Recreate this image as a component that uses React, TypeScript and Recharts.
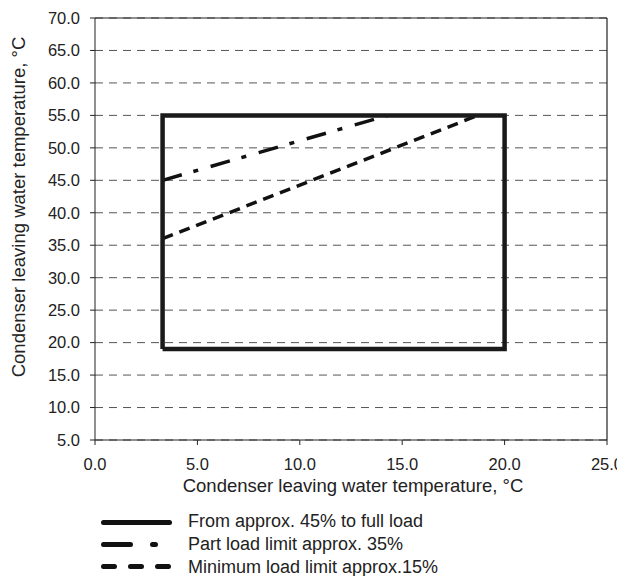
import React from 'react';
import { ComposedChart, Line, XAxis, YAxis, CartesianGrid, ReferenceLine, Customized } from 'recharts';

const xTicks = [0, 5, 10, 15, 20, 25];
const yTicks = [5, 10, 15, 20, 25, 30, 35, 40, 45, 50, 55, 60, 65, 70];

const fullLoadX = [3.3, 3.3, 20, 20, 3.3];
const fullLoadY = [19, 55, 55, 19, 19];
const partLoadX = [3.3, 14.3];
const partLoadY = [45, 55];
const minLoadX = [3.3, 18.7];
const minLoadY = [36, 55];

const legendLabels = [
  'From approx. 45% to full load',
  'Part load limit approx. 35%',
  'Minimum load limit approx.15%',
];

const toPts = (xs: number[], ys: number[]) => xs.map((x, i) => ({ x, y: ys[i] }));

const FONT = '"Liberation Sans", Arial, sans-serif';

const LegendBlock = () => {
  const rows = [514.5, 536.5, 558.5];
  const textRows = [513, 536, 558.5];
  const styles = [
    { x2: 161.5, dash: undefined as string | undefined },
    { x2: 161.5, dash: '27 22 3 200' },
    { x2: 160.5, dash: '11 16' },
  ];
  return (
    <g>
      {styles.map((s, i) => (
        <g key={i}>
          <line
            x1={95.5}
            x2={s.x2}
            y1={rows[i]}
            y2={rows[i]}
            stroke="#111"
            strokeWidth={5}
            strokeLinecap="round"
            strokeDasharray={s.dash}
          />
          <text x={180} y={textRows[i]} dominantBaseline="central" fontSize={18} fill="#222" fontFamily={FONT}>
            {legendLabels[i]}
          </text>
        </g>
      ))}
    </g>
  );
};

export default function App() {
  return (
    <ComposedChart
      width={617}
      height={568}
      margin={{ top: 10, right: 18, bottom: 106, left: 0 }}
      style={{ fontFamily: FONT }}
    >
      <CartesianGrid horizontal vertical={false} stroke="#555" strokeDasharray="8 6" />
      <XAxis
        type="number"
        dataKey="x"
        domain={[0, 25]}
        ticks={xTicks}
        tickFormatter={(v: number) => v.toFixed(1)}
        stroke="#222"
        tickSize={5}
        tickMargin={13}
        tick={{ fill: '#222', fontSize: 16.5 }}
        allowDataOverflow
        label={{
          content: () => (
            <text x={345} y={477} textAnchor="middle" dominantBaseline="central" fontSize={18.5} fill="#222" fontFamily={FONT}>
              Condenser leaving water temperature, °C
            </text>
          ),
        }}
      />
      <YAxis
        type="number"
        dataKey="y"
        domain={[5, 70]}
        ticks={yTicks}
        tickFormatter={(v: number) => v.toFixed(1)}
        width={87}
        stroke="#222"
        tickSize={5}
        tickMargin={10}
        tick={{ fill: '#222', fontSize: 16.5 }}
        allowDataOverflow
        label={{
          content: () => (
            <text
              x={10}
              y={199}
              transform="rotate(-90 10 199)"
              textAnchor="middle"
              dominantBaseline="central"
              fontSize={18.5}
              fill="#222"
              fontFamily={FONT}
            >
              Condenser leaving water temperature, °C
            </text>
          ),
        }}
      />
      <ReferenceLine y={70} stroke="#222" strokeWidth={1.2} />
      <ReferenceLine x={25} stroke="#222" strokeWidth={1.2} />
      <Line
        data={toPts(partLoadX, partLoadY)}
        dataKey="y"
        stroke="#111"
        strokeWidth={3.5}
        strokeDasharray="20 12 5 13"
        dot={false}
        isAnimationActive={false}
      />
      <Line
        data={toPts(minLoadX, minLoadY)}
        dataKey="y"
        stroke="#111"
        strokeWidth={3.5}
        strokeDasharray="11 7"
        dot={false}
        isAnimationActive={false}
      />
      <Line
        data={toPts(fullLoadX, fullLoadY)}
        dataKey="y"
        stroke="#1a1a1a"
        strokeWidth={4.5}
        strokeLinejoin="miter"
        dot={false}
        isAnimationActive={false}
      />
      <Customized component={LegendBlock} />
    </ComposedChart>
  );
}
